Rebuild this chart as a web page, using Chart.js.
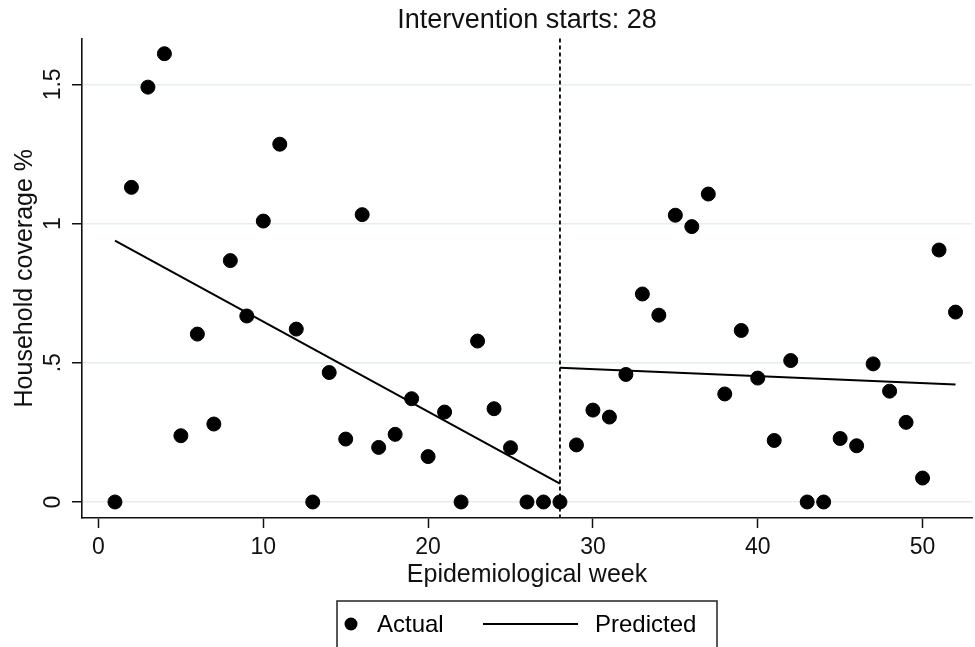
<!DOCTYPE html>
<html>
<head>
<meta charset="utf-8">
<script src="https://cdn.jsdelivr.net/npm/chart.js@4/dist/chart.umd.min.js"></script>
<style>
  html, body { margin: 0; padding: 0; background: #ffffff; }
  #wrap { width: 975px; height: 647px; position: relative; }
</style>
</head>
<body>
<div id="wrap"><canvas id="c" width="975" height="647"></canvas></div>
<script>
// ---- data ----
const weeks = [1,2,3,4,5,6,7,8,9,10,11,12,13,14,15,16,17,18,19,20,21,22,23,24,25,26,
               27,28,29,30,31,32,33,34,35,36,37,38,39,40,41,42,43,44,45,46,47,48,49,50,51,52];
const actual = [0, 1.13, 1.49, 1.61, 0.238, 0.603, 0.28, 0.867, 0.668, 1.009, 1.285, 0.621, 0,
                0.465, 0.226, 1.032, 0.196, 0.243, 0.371, 0.163, 0.323, 0, 0.578, 0.335, 0.195, 0,
                0, 0, 0.205, 0.33, 0.305, 0.458, 0.747, 0.671, 1.03, 0.989, 1.106, 0.388, 0.616,
                0.445, 0.221, 0.508, 0, 0, 0.228, 0.202, 0.496, 0.398, 0.286, 0.086, 0.905, 0.682];
const predictedPreWeeks = [1, 28];
const predictedPreValues = [0.939, 0.066];
const predictedPostWeeks = [28, 52];
const predictedPostValues = [0.482, 0.422];
const interventionWeek = 28;
const xTickValues = [0, 10, 20, 30, 40, 50];
const yTickValues = [0, 0.5, 1, 1.5];
const yTickLabels = ['0', '.5', '1', '1.5'];
const titleText = 'Intervention starts: 28';
const xTitle = 'Epidemiological week';
const yTitle = 'Household coverage %';
const legendLabels = ['Actual', 'Predicted'];

const FONT = "'Liberation Sans', Arial, Helvetica, sans-serif";

const toPoints = (xs, ys) => xs.map((x, i) => ({ x: x, y: ys[i] }));

// dashed intervention line
const interventionLine = {
  id: 'interventionLine',
  beforeDatasetsDraw(chart) {
    const { ctx, chartArea, scales } = chart;
    const px = scales.x.getPixelForValue(interventionWeek);
    ctx.save();
    ctx.strokeStyle = '#000';
    ctx.lineWidth = 1.8;
    ctx.setLineDash([4, 3]);
    ctx.beginPath();
    ctx.moveTo(px, chartArea.top);
    ctx.lineTo(px, chartArea.bottom);
    ctx.stroke();
    ctx.restore();
  }
};

// Stata-style boxed legend
const boxedLegend = {
  id: 'boxedLegend',
  afterDraw(chart) {
    const { ctx, chartArea } = chart;
    const cx = (chartArea.left + chartArea.right) / 2;
    const w = 380;
    const left = cx - w / 2;
    const top = 601;
    const cy = 624;
    ctx.save();
    ctx.strokeStyle = '#222';
    ctx.lineWidth = 1.5;
    ctx.strokeRect(left, top, w, 60);
    // Actual marker
    ctx.fillStyle = '#000';
    ctx.beginPath();
    ctx.arc(left + 14, cy, 6.5, 0, Math.PI * 2);
    ctx.fill();
    ctx.font = '24px ' + FONT;
    ctx.textBaseline = 'middle';
    ctx.textAlign = 'left';
    ctx.fillText(legendLabels[0], left + 40, cy + 1);
    // Predicted line
    ctx.strokeStyle = '#000';
    ctx.lineWidth = 2;
    ctx.beginPath();
    ctx.moveTo(left + 146, cy);
    ctx.lineTo(left + 241, cy);
    ctx.stroke();
    ctx.fillText(legendLabels[1], left + 258, cy + 1);
    ctx.restore();
  }
};

new Chart(document.getElementById('c'), {
  type: 'scatter',
  data: {
    datasets: [
      {
        label: legendLabels[0],
        data: toPoints(weeks, actual),
        backgroundColor: '#000',
        borderColor: '#000',
        pointRadius: 7,
        pointHoverRadius: 7,
        showLine: false,
        order: 1
      },
      {
        label: legendLabels[1],
        type: 'line',
        data: toPoints(predictedPreWeeks, predictedPreValues),
        borderColor: '#000',
        borderWidth: 2,
        pointRadius: 0,
        fill: false,
        order: 2
      },
      {
        label: legendLabels[1] + ' (post)',
        type: 'line',
        data: toPoints(predictedPostWeeks, predictedPostValues),
        borderColor: '#000',
        borderWidth: 2,
        pointRadius: 0,
        fill: false,
        order: 2
      }
    ]
  },
  options: {
    responsive: false,
    animation: false,
    devicePixelRatio: 1,
    layout: { autoPadding: false, padding: { top: 0, right: 3, bottom: 49, left: 0 } },
    plugins: {
      legend: { display: false },
      tooltip: { enabled: false },
      title: {
        display: true,
        text: titleText,
        fullSize: false,
        color: '#111',
        font: { family: FONT, size: 27, weight: 'normal', lineHeight: 1.2 },
        padding: { top: 4, bottom: 2 }
      }
    },
    scales: {
      x: {
        type: 'linear',
        min: -1,
        max: 53,
        afterBuildTicks: (s) => { s.ticks = xTickValues.map(v => ({ value: v })); },
        afterFit: (s) => { s.height = 80; },
        ticks: {
          color: '#111',
          font: { family: FONT, size: 23 },
          padding: 6,
          maxRotation: 0,
          autoSkip: false
        },
        grid: {
          drawOnChartArea: false,
          drawTicks: true,
          tickLength: 10,
          tickColor: '#111',
          tickWidth: 1.5
        },
        border: { display: true, color: '#111', width: 1.6 },
        title: {
          display: true,
          text: xTitle,
          color: '#111',
          font: { family: FONT, size: 25, lineHeight: 1.2 },
          padding: { top: 0, bottom: 8 }
        }
      },
      y: {
        type: 'linear',
        min: -0.0575,
        max: 1.665,
        afterBuildTicks: (s) => { s.ticks = yTickValues.map(v => ({ value: v })); },
        afterFit: (s) => { s.width = 82; },
        ticks: {
          color: '#111',
          font: { family: FONT, size: 23 },
          padding: 2,
          minRotation: 90,
          maxRotation: 90,
          crossAlign: 'center',
          autoSkip: false,
          callback: (v) => {
            const i = yTickValues.indexOf(v);
            return i >= 0 ? yTickLabels[i] : '';
          }
        },
        grid: {
          color: '#e4eef0',
          lineWidth: 1.5,
          drawTicks: true,
          tickLength: 10,
          tickColor: '#111',
          tickWidth: 1.5
        },
        border: { display: true, color: '#111', width: 1.6 },
        title: {
          display: true,
          text: yTitle,
          color: '#111',
          font: { family: FONT, size: 25, lineHeight: 1.2 },
          padding: { top: 10, bottom: 0 }
        }
      }
    }
  },
  plugins: [interventionLine, boxedLegend]
});
</script>
</body>
</html>
